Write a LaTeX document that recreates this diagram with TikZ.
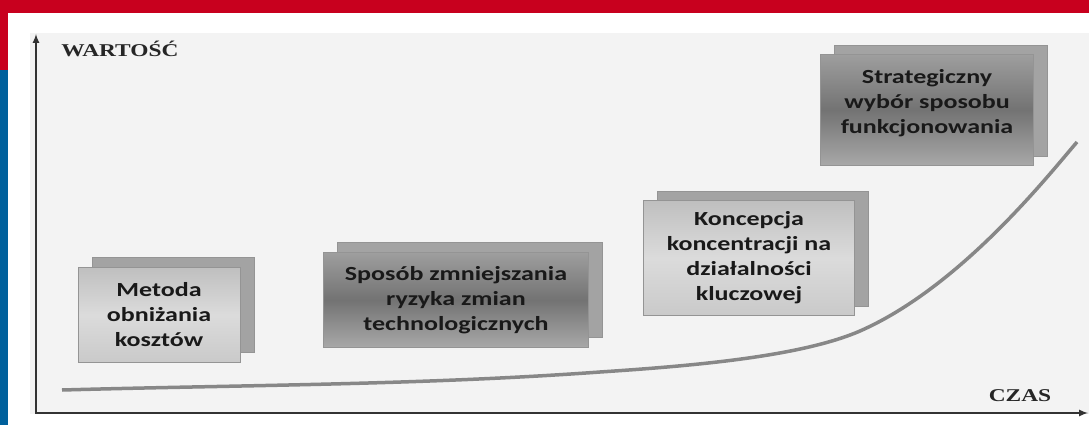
\documentclass[tikz,border=0pt]{standalone}
\usepackage{fontspec}
\usetikzlibrary{arrows}
\newfontfamily\boxfont[FakeStretch=1.3]{Carlito}
\newfontfamily\axisfont[FakeStretch=1.3]{Liberation Serif}
\definecolor{ue_red}{RGB}{200, 0, 30}
\definecolor{ue_blue}{RGB}{0, 96, 156}
\definecolor{panel_gray}{RGB}{243, 243, 243}
\definecolor{curve_gray}{RGB}{135, 135, 135}
\tikzstyle{back}=[rectangle,fill=black!36,draw=black!42,
  line width=0.5pt,inner sep=0pt]
\tikzstyle{lightbox}=[rectangle,top color=black!25,bottom color=black!21,
  middle color=black!14,draw=black!42,line width=0.5pt,inner sep=0pt,
  align=center,font=\boxfont\bfseries\fontsize{20}{25}\selectfont,text=black!90]
\tikzstyle{darkbox}=[lightbox,top color=black!38,bottom color=black!34,
  middle color=black!55]
\tikzstyle{axislabel}=[font=\axisfont\bfseries\fontsize{18}{20}\selectfont,
  text=black!85]

\begin{document}
\begin{tikzpicture}[x=1pt,y=-1pt]
    \useasboundingbox (0,0) rectangle (1089,425);
    \fill[ue_red] (0,0) rectangle (1089,13);
    \fill[ue_red] (0,0) rectangle (8,70);
    \fill[ue_blue] (0,70) rectangle (8,425);
    \fill[panel_gray] (30,33) rectangle (1089,414);
    \coordinate (o) at (36, 413);
    \coordinate (y) at (36, 34);
    \coordinate (x) at (1088, 413);
    \draw [latex-latex,line width=2pt,black!80] (y) -- (o) -- (x);
    \node [style=axislabel] (wartosc) at (120, 49) {WARTOŚĆ};
    \node [style=axislabel] (czas) at (1020, 396) {CZAS};
    \coordinate (c0) at (62, 390);
    \coordinate (c1) at (600, 372);
    \coordinate (c2) at (860, 331);
    \coordinate (c3) at (1077, 142);
    \draw [curve_gray,line width=3.5pt] (c0) .. controls (242,385) and (420,385) .. (c1)
      .. controls (690,366) and (800,357) .. (c2)
      .. controls (960,287) and (1047,177) .. (c3);
    \node [style=back,minimum width=162pt,minimum height=95pt] (1b) at (173, 305) {};
    \node [style=lightbox,minimum width=162pt,minimum height=95pt] (1) at (159, 315) {Metoda\\obniżania\\kosztów};
    \node [style=back,minimum width=265pt,minimum height=95pt] (2b) at (470, 290) {};
    \node [style=darkbox,minimum width=265pt,minimum height=95pt] (2) at (456, 300) {Sposób zmniejszania\\ryzyka zmian\\technologicznych};
    \node [style=back,minimum width=211pt,minimum height=115pt] (3b) at (763, 249) {};
    \node [style=lightbox,minimum width=211pt,minimum height=115pt] (3) at (749, 258) {Koncepcja\\koncentracji na\\działalności\\kluczowej};
    \node [style=back,minimum width=213pt,minimum height=111pt] (4b) at (941, 101) {};
    \node [style=darkbox,minimum width=213pt,minimum height=111pt,text depth=18pt] (4) at (927, 110) {Strategiczny\\wybór sposobu\\funkcjonowania};
\end{tikzpicture}
\end{document}
